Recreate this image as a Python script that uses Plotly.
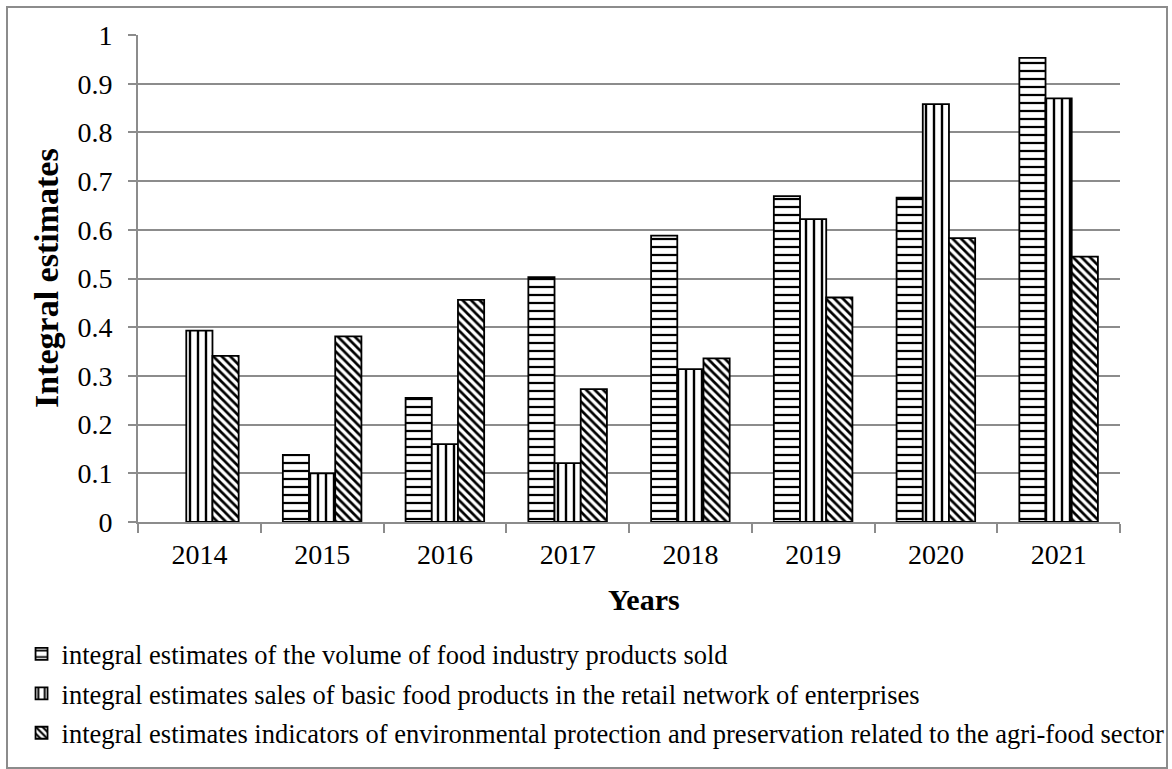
import plotly.graph_objects as go

years = ["2014", "2015", "2016", "2017", "2018", "2019", "2020", "2021"]
food_volume = [None, 0.138, 0.255, 0.503, 0.588, 0.669, 0.666, 0.953]
retail_sales = [0.393, 0.100, 0.160, 0.121, 0.314, 0.622, 0.858, 0.870]
environment = [0.341, 0.381, 0.456, 0.273, 0.336, 0.461, 0.583, 0.545]

names = [
    "integral estimates of the volume of food industry products sold",
    "integral estimates sales of basic food products in the retail network of enterprises",
    "integral estimates indicators of environmental protection and preservation related to the agri-food sector",
]
series = [food_volume, retail_sales, environment]
shapes_pat = ["-", "|", "\\"]
sizes = [8, 8, 6]
solid = [0.28, 0.3, 0.45]

FONT = "Liberation Serif"

fig = go.Figure()
for i, (nm, vals, sh, sz, so) in enumerate(zip(names, series, shapes_pat, sizes, solid)):
    fig.add_trace(go.Bar(
        x=years, y=vals, name=nm, legendgroup=f"g{i}",
        marker=dict(
            color="white",
            line=dict(color="black", width=1.8),
            pattern=dict(shape=sh, fgcolor="black", bgcolor="white", size=sz, solidity=so, fillmode="replace"),
        ),
    ))

L, R, T, B = 138, 52, 35, 247
W, H = 1172, 769
pw, ph = W - L - R, H - T - B

fig.update_layout(
    width=W, height=H,
    margin=dict(l=L, r=R, t=T, b=B),
    paper_bgcolor="white", plot_bgcolor="white",
    barmode="group", bargap=0.36, bargroupgap=0,
    font=dict(family=FONT, color="black", size=26),
    showlegend=True,
    legend=dict(
        x=-0.1186, y=-0.222, xanchor="left", yanchor="top",
        orientation="v", font=dict(family=FONT, size=26.5, color="black"),
        itemwidth=30, bgcolor="rgba(0,0,0,0)",
        traceorder="grouped", tracegroupgap=2,
    ),
    xaxis=dict(
        type="category", showgrid=False, showline=True, linecolor="#8c8c8c", linewidth=2,
        ticks="outside", tickson="boundaries", ticklen=9, tickcolor="#8c8c8c", tickwidth=1.5,
        tickfont=dict(family=FONT, size=28), ticklabelstandoff=6,
    ),
    yaxis=dict(
        range=[0, 1], dtick=0.1, tick0=0, showgrid=True, gridcolor="#8c8c8c", gridwidth=2,
        showline=True, linecolor="#8c8c8c", linewidth=2, zeroline=False,
        ticks="outside", ticklen=8, tickcolor="#8c8c8c", tickwidth=1.5,
        tickfont=dict(family=FONT, size=28), ticklabelstandoff=10,
    ),
    annotations=[
        dict(text="<b>Years</b>", xref="paper", yref="paper",
             x=(644 - L) / pw, y=(H - B - 599) / ph, xanchor="center", yanchor="middle",
             showarrow=False, font=dict(family=FONT, size=30, color="black")),
        dict(text="<b>Integral estimates</b>", xref="paper", yref="paper",
             x=(46 - L) / pw, y=(H - B - 278) / ph, xanchor="center", yanchor="middle",
             textangle=-90, showarrow=False, font=dict(family=FONT, size=34, color="black")),
    ],
    shapes=[dict(
        type="rect", xref="paper", yref="paper",
        x0=(7 - L) / pw, x1=(1167 - L) / pw,
        y0=(H - B - 768) / ph, y1=(H - B - 7) / ph,
        line=dict(color="#8c8c8c", width=2), fillcolor="rgba(0,0,0,0)", layer="below",
    )],
)

fig.write_html("out.html")
